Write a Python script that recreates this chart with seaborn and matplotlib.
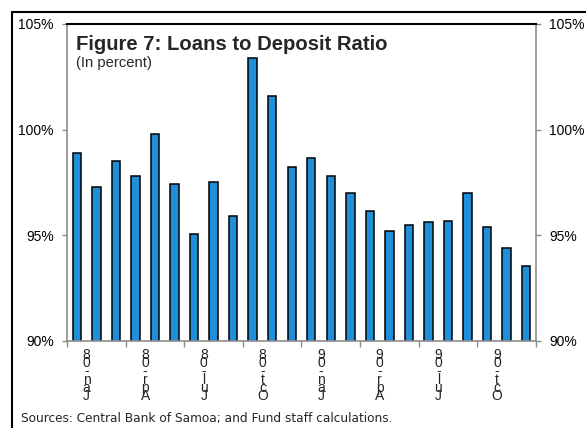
import matplotlib
matplotlib.use("Agg")
import matplotlib.pyplot as plt
import seaborn as sns
import pandas as pd
from matplotlib.lines import Line2D
from matplotlib.transforms import blended_transform_factory

# Monthly loans-to-deposit ratio, Jan 2008 - Dec 2009 (percent)
months = ["Jan-08", "Feb-08", "Mar-08", "Apr-08", "May-08", "Jun-08",
          "Jul-08", "Aug-08", "Sep-08", "Oct-08", "Nov-08", "Dec-08",
          "Jan-09", "Feb-09", "Mar-09", "Apr-09", "May-09", "Jun-09",
          "Jul-09", "Aug-09", "Sep-09", "Oct-09", "Nov-09", "Dec-09"]
ratio = [98.9, 97.3, 98.5, 97.8, 99.8, 97.4,
         95.05, 97.5, 95.9, 103.4, 101.6, 98.25,
         98.65, 97.8, 97.0, 96.15, 95.2, 95.5,
         95.6, 95.65, 97.0, 95.4, 94.4, 93.55]
tick_labels = ["Jan-08", "Apr-08", "Jul-08", "Oct-08",
               "Jan-09", "Apr-09", "Jul-09", "Oct-09"]
y_ticks = [90, 95, 100, 105]

df = pd.DataFrame({"month": months, "ratio": ratio})

sns.set_theme(style="white")
plt.rcParams["font.family"] = ["Liberation Sans", "DejaVu Sans"]

W, H = 586, 428
fig = plt.figure(figsize=(W / 100, H / 100), dpi=100)
fig.patch.set_facecolor("white")

def fx(px):
    return px / W

def fy(py):
    return 1 - py / H

left, right, top, bottom = 67, 536, 24, 340.7
ax = fig.add_axes([fx(left), fy(bottom), fx(right - left), (bottom - top) / H])

sns.barplot(data=df, x="month", y="ratio", color="#1E8FD8", saturation=1,
            edgecolor="black", linewidth=1.1, width=0.43, ax=ax)

ax.set_xlim(-0.5, len(months) - 0.5)
ax.set_ylim(90, 105)
ax.set_xlabel("")
ax.set_ylabel("")

# y axis on both sides
ax.set_yticks(y_ticks)
ax.set_yticklabels([f"{v}%" for v in y_ticks])
ax.tick_params(axis="y", which="both", left=True, right=True,
               labelleft=True, labelright=True, direction="out",
               length=3.5, width=1, color="#8c8c8c", labelsize=10,
               labelcolor="black", pad=6)

# x ticks every quarter at category boundaries
ax.set_xticks([i - 0.5 for i in range(0, len(months) + 1, 3)])
ax.set_xticklabels([])
ax.tick_params(axis="x", bottom=True, direction="out", length=4,
               width=1, color="#8c8c8c")

for s in ["left", "right", "bottom"]:
    ax.spines[s].set_color("#8c8c8c")
    ax.spines[s].set_linewidth(1.2)
ax.spines["top"].set_color("black")
ax.spines["top"].set_linewidth(1.5)
ax.grid(False)

# stacked quarter labels below the axis
trans = blended_transform_factory(ax.transData, ax.transAxes)
for lab in tick_labels:
    i = months.index(lab)
    ax.text(i + 0.5, -0.022, "\n".join(reversed(lab)), transform=trans,
            ha="center", va="top", fontsize=10, linespacing=0.48)

# titles
fig.text(fx(76), fy(50), "Figure 7: Loans to Deposit Ratio",
         fontsize=14.6, fontweight="bold", va="baseline", ha="left")
fig.text(fx(76), fy(67), "(In percent)", fontsize=10.6,
         va="baseline", ha="left")

# source note
fig.text(fx(21), fy(422), "Sources: Central Bank of Samoa; and Fund staff calculations.",
         fontsize=8.7, va="baseline", ha="left", family="DejaVu Sans")

# outer frame
fig.add_artist(Line2D([fx(12), 1], [fy(12), fy(12)], color="black", lw=1.5,
                      transform=fig.transFigure))
fig.add_artist(Line2D([fx(12), fx(12)], [fy(12), 0], color="black", lw=1.5,
                      transform=fig.transFigure))

fig.savefig("out.png", dpi=100, facecolor="white")
